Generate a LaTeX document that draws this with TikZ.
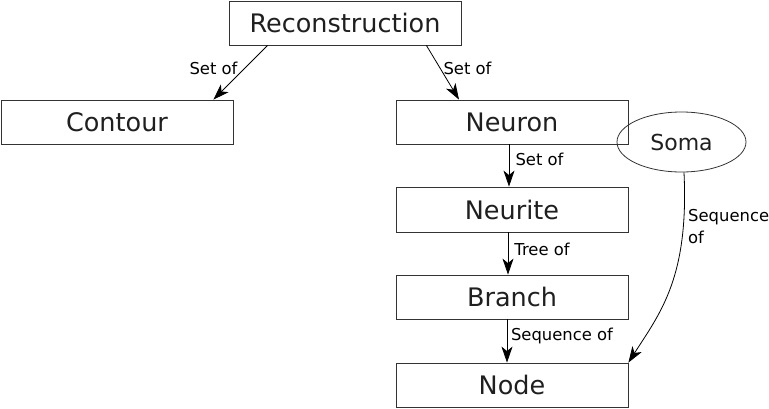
\documentclass[tikz,border=0pt]{standalone}
\usepackage{fontspec}
\setmainfont{DejaVu Sans}
\usetikzlibrary{arrows.meta,shapes.geometric}
\begin{document}
\begin{tikzpicture}[x=1pt,y=-1pt,
  box/.style={draw=black!80, line width=0.8pt, inner sep=0pt, minimum width=232pt, minimum height=44pt,
    text=black!88, font=\fontsize{25.5}{30}\selectfont},
  lbl/.style={inner sep=0pt, text=black, font=\fontsize{16.4}{22}\selectfont},
  arr/.style={draw=black, line width=0.8pt, -{Stealth[length=16pt,width=11pt,inset=4.5pt]}}]
\useasboundingbox (0,0) rectangle (769,408);
\node[box] (rec) at (345,23) {Reconstruction};
\node[box] (contour) at (117,122) {Contour};
\node[box] (neuron) at (512,122) {Neuron};
\node[box, minimum height=45pt] (neurite) at (512,209.5) {Neurite};
\node[box] (branch) at (512,297) {Branch};
\node[box] (node) at (512,385) {Node};
\node[ellipse, draw=black!80, line width=0.8pt, inner sep=0pt, minimum width=129pt, minimum height=60pt,
  text=black!88, font=\fontsize{22}{26}\selectfont] (soma) at (681.5,142) {Soma};

\draw[arr] ([xshift=39pt]rec.south west) -- ([xshift=-20pt]contour.north east);
\draw[arr] ([xshift=-35pt]rec.south east) -- ([xshift=-53pt]neuron.north);
\draw[arr] ([xshift=-3pt]neuron.south) -- ([xshift=-3pt]neurite.north);
\draw[arr] ([xshift=-4pt]neurite.south) -- ([xshift=-4pt]branch.north);
\draw[arr] ([xshift=-5pt]branch.south) -- ([xshift=-5pt]node.north);
\draw[arr] ([xshift=2.5pt]soma.south) .. controls +(5,105) and +(32,-50) .. (node.north east);

\node[lbl] (l1) at (213.5,68) {Set of};
\node[lbl] (l2) at (467.5,68) {Set of};
\node[lbl] (l3) at (539.5,159) {Set of};
\node[lbl] (l4) at (542,249) {Tree of};
\node[lbl] (l5) at (562,336) {Sequence of};
\node[lbl, anchor=north west, align=left] (l6) at (688,209) {Sequence\\of};
\end{tikzpicture}
\end{document}
